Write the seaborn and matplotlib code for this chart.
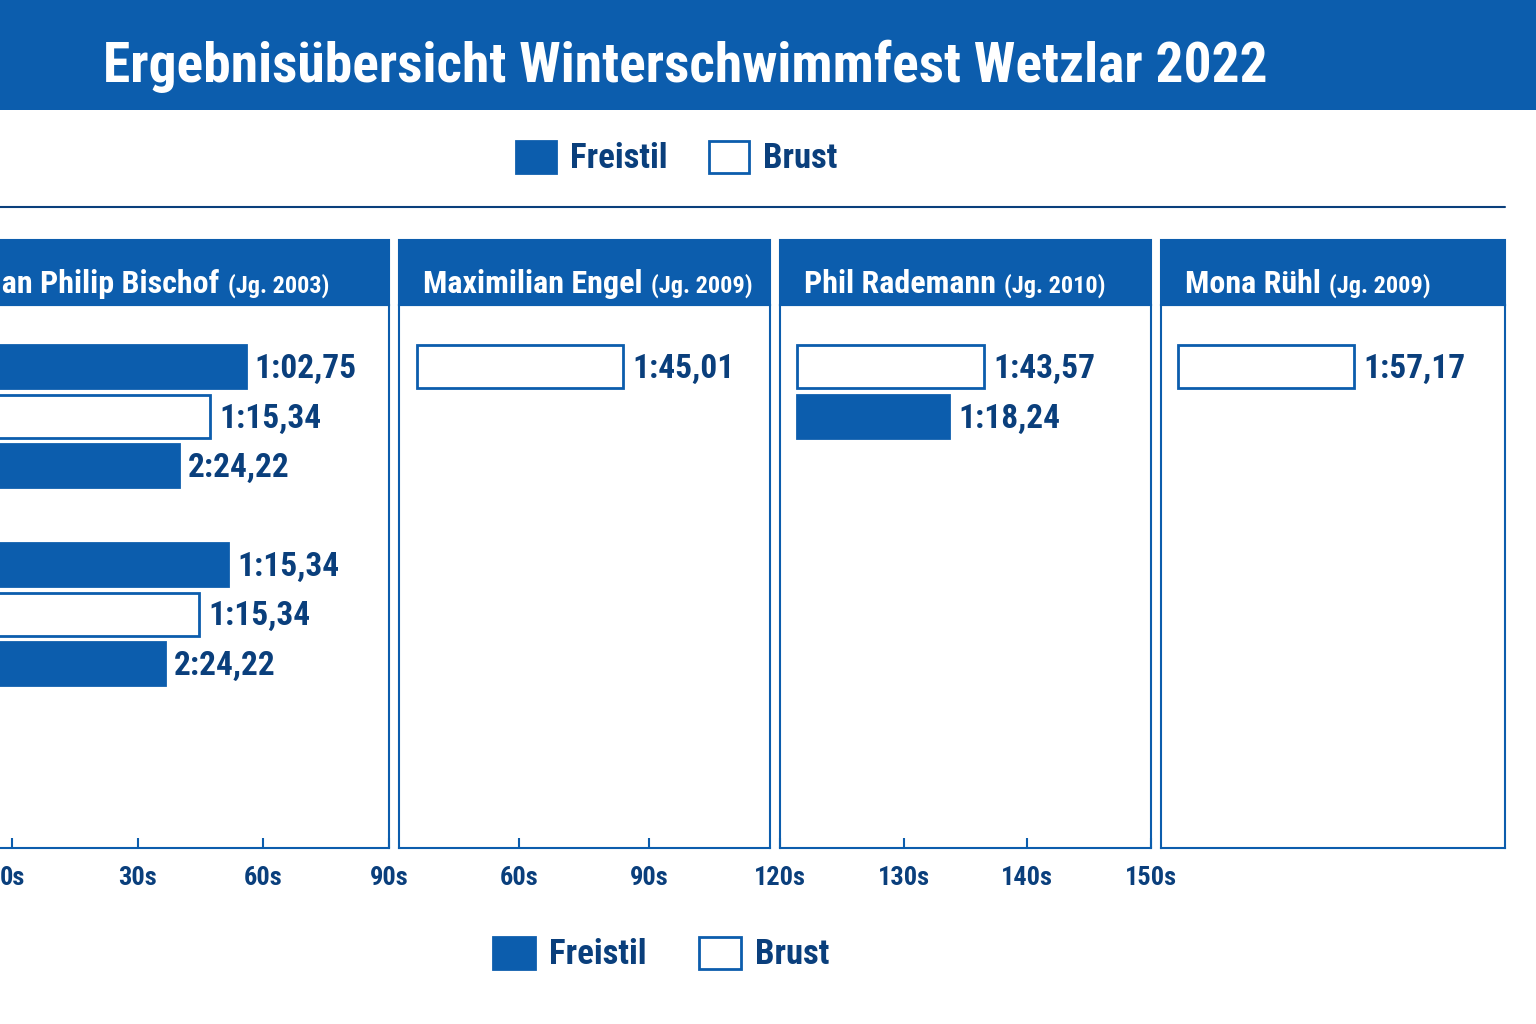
import matplotlib
matplotlib.use("Agg")
import matplotlib.pyplot as plt
from matplotlib import font_manager
from matplotlib.patches import Patch, Rectangle
from matplotlib.lines import Line2D
import pandas as pd
import seaborn as sns

# Farben
BLAU = "#0C5DAD"
NAVY = "#0A3F7C"

# Daten
schwimmer = ["Jan Philip Bischof", "Maximilian Engel", "Phil Rademann", "Mona Rühl"]
jahrgang = ["(Jg. 2003)", "(Jg. 2009)", "(Jg. 2010)", "(Jg. 2009)"]

reihen_bischof = ["Start 1", "Start 2", "Start 3", "Start 4", "Start 5", "Start 6"]
lagen_bischof = ["Freistil", "Brust", "Freistil", "Freistil", "Brust", "Freistil"]
zeiten_bischof = ["1:02,75", "1:15,34", "2:24,22", "1:15,34", "1:15,34", "2:24,22"]
balken_bischof = [55.8, 47.3, 39.9, 51.6, 44.6, 36.5]

reihen_engel = ["Start 1"]
lagen_engel = ["Brust"]
zeiten_engel = ["1:45,01"]
balken_engel = [84.0]

reihen_rademann = ["Start 1", "Start 2"]
lagen_rademann = ["Brust", "Freistil"]
zeiten_rademann = ["1:43,57", "1:18,24"]
balken_rademann = [136.5, 133.7]

reihen_ruehl = ["Start 1"]
lagen_ruehl = ["Brust"]
zeiten_ruehl = ["1:57,17"]
balken_ruehl = [51.1]

reihenfolge = ["Start 1", "Start 2", "Start 3", "Pause", "Start 4", "Start 5", "Start 6"]
lagen = ["Freistil", "Brust"]

# Achsen je Panel
x_grenzen = [(-12, 90), (32.3, 117.9), (120, 150), (-5, 95)]
x_ticks = [[0, 30, 60, 90], [60, 90], [120, 130, 140, 150], []]
balken_start = [-12, 36.5, 121.4, 0]
panel_px = [(-38, 389), (399, 770), (780, 1151), (1161, 1505)]

B, H = 1536, 1024


def schmale_schrift():
    namen = sorted({f.name for f in font_manager.fontManager.ttflist})
    for wunsch in ["Liberation Sans Narrow", "DejaVu Sans Condensed",
                   "Roboto Condensed", "Open Sans Condensed", "Noto Sans Condensed"]:
        if wunsch in namen:
            return wunsch, False
    for n in namen:
        if "Condensed" in n or "Narrow" in n:
            return n, False
    return "Noto Sans", True


def panel(ax, i, reihen, lagen_, zeiten, balken):
    df = pd.DataFrame({
        "Start": reihen,
        "Lage": lagen_,
        "Laenge": [b - balken_start[i] for b in balken],
    })
    sns.barplot(data=df, x="Laenge", y="Start", hue="Lage", order=reihenfolge,
                hue_order=lagen, palette={"Freistil": BLAU, "Brust": "white"},
                saturation=1, dodge=False, width=0.87, errorbar=None, legend=False,
                edgecolor=BLAU, linewidth=2, left=balken_start[i], ax=ax)
    for r, b, z in zip(reihen, balken, zeiten):
        ax.annotate(z, (b, reihenfolge.index(r)), xytext=(6.5, -1.5),
                    textcoords="offset points", va="center", ha="left",
                    fontsize=24, fontweight="bold", color=NAVY)
    ax.set_xlim(*x_grenzen[i])
    ax.set_ylim(9.72, -1.25)
    ax.set_xticks(x_ticks[i], [f"{t}s" for t in x_ticks[i]])
    ax.set_yticks([])
    ax.set_xlabel("")
    ax.set_ylabel("")
    ax.tick_params(axis="x", bottom=True, direction="in", length=7, width=1.5,
                   color=BLAU, pad=13, labelsize=19, labelcolor=NAVY)
    for s in ax.spines.values():
        s.set_visible(True)
        s.set_color(BLAU)
        s.set_linewidth(1.5)
    # Kopfzeile
    kopf_h = 65 / 543
    ax.add_patch(Rectangle((0, 1), 1, kopf_h, transform=ax.transAxes,
                           facecolor=BLAU, edgecolor=BLAU, lw=1.5, clip_on=False))
    breite = panel_px[i][1] - panel_px[i][0]
    name = ax.text(24 / breite, 1 + 12 / 543, schwimmer[i], transform=ax.transAxes,
                   fontsize=23, fontweight="bold", color="white", va="baseline")
    ax.annotate(jahrgang[i], xy=(1, 0), xycoords=name, xytext=(6, 0.5),
                textcoords="offset points", fontsize=17.5, fontweight="bold",
                color="white", va="bottom")


def main():
    sns.set_theme(style="white")
    schrift, gestaucht = schmale_schrift()
    plt.rcParams["font.family"] = [schrift, "DejaVu Sans"]
    plt.rcParams["font.weight"] = "bold"
    if gestaucht:
        plt.rcParams["font.stretch"] = "condensed"

    fig = plt.figure(figsize=(B / 100, H / 100), dpi=100)

    # Titelbalken
    fig.add_artist(Rectangle((0, 1 - 110 / H), 1, 110 / H, transform=fig.transFigure,
                             facecolor=BLAU, edgecolor="none"))
    fig.text(685 / B, 1 - 82 / H, "Ergebnisübersicht Winterschwimmfest Wetzlar 2022",
             ha="center", va="baseline", fontsize=40, fontweight="bold", color="white")
    fig.add_artist(Line2D([0, 1505 / B], [1 - 207 / H] * 2, transform=fig.transFigure,
                          color=NAVY, lw=1.5))

    daten = [
        (reihen_bischof, lagen_bischof, zeiten_bischof, balken_bischof),
        (reihen_engel, lagen_engel, zeiten_engel, balken_engel),
        (reihen_rademann, lagen_rademann, zeiten_rademann, balken_rademann),
        (reihen_ruehl, lagen_ruehl, zeiten_ruehl, balken_ruehl),
    ]
    for i, d in enumerate(daten):
        x0, x1 = panel_px[i]
        ax = fig.add_axes([x0 / B, (H - 848) / H, (x1 - x0) / B, 543 / H])
        panel(ax, i, *d)

    griffe = [Patch(facecolor=BLAU, edgecolor=BLAU, lw=2),
              Patch(facecolor="white", edgecolor=BLAU, lw=2)]
    # oben und unten je eine Legende
    for y, x, abstand, laenge in [(158, 677, 1.2, 1.15), (954, 661, 1.5, 1.22)]:
        fig.legend(griffe, lagen, loc="center", bbox_to_anchor=(x / B, 1 - y / H),
                   ncol=2, frameon=False, prop={"size": 25, "weight": "bold"},
                   labelcolor=NAVY, handlelength=laenge, handleheight=1.05,
                   handletextpad=0.4, columnspacing=abstand)

    fig.savefig("out.png", dpi=100)
    plt.close(fig)


if __name__ == "__main__":
    main()
